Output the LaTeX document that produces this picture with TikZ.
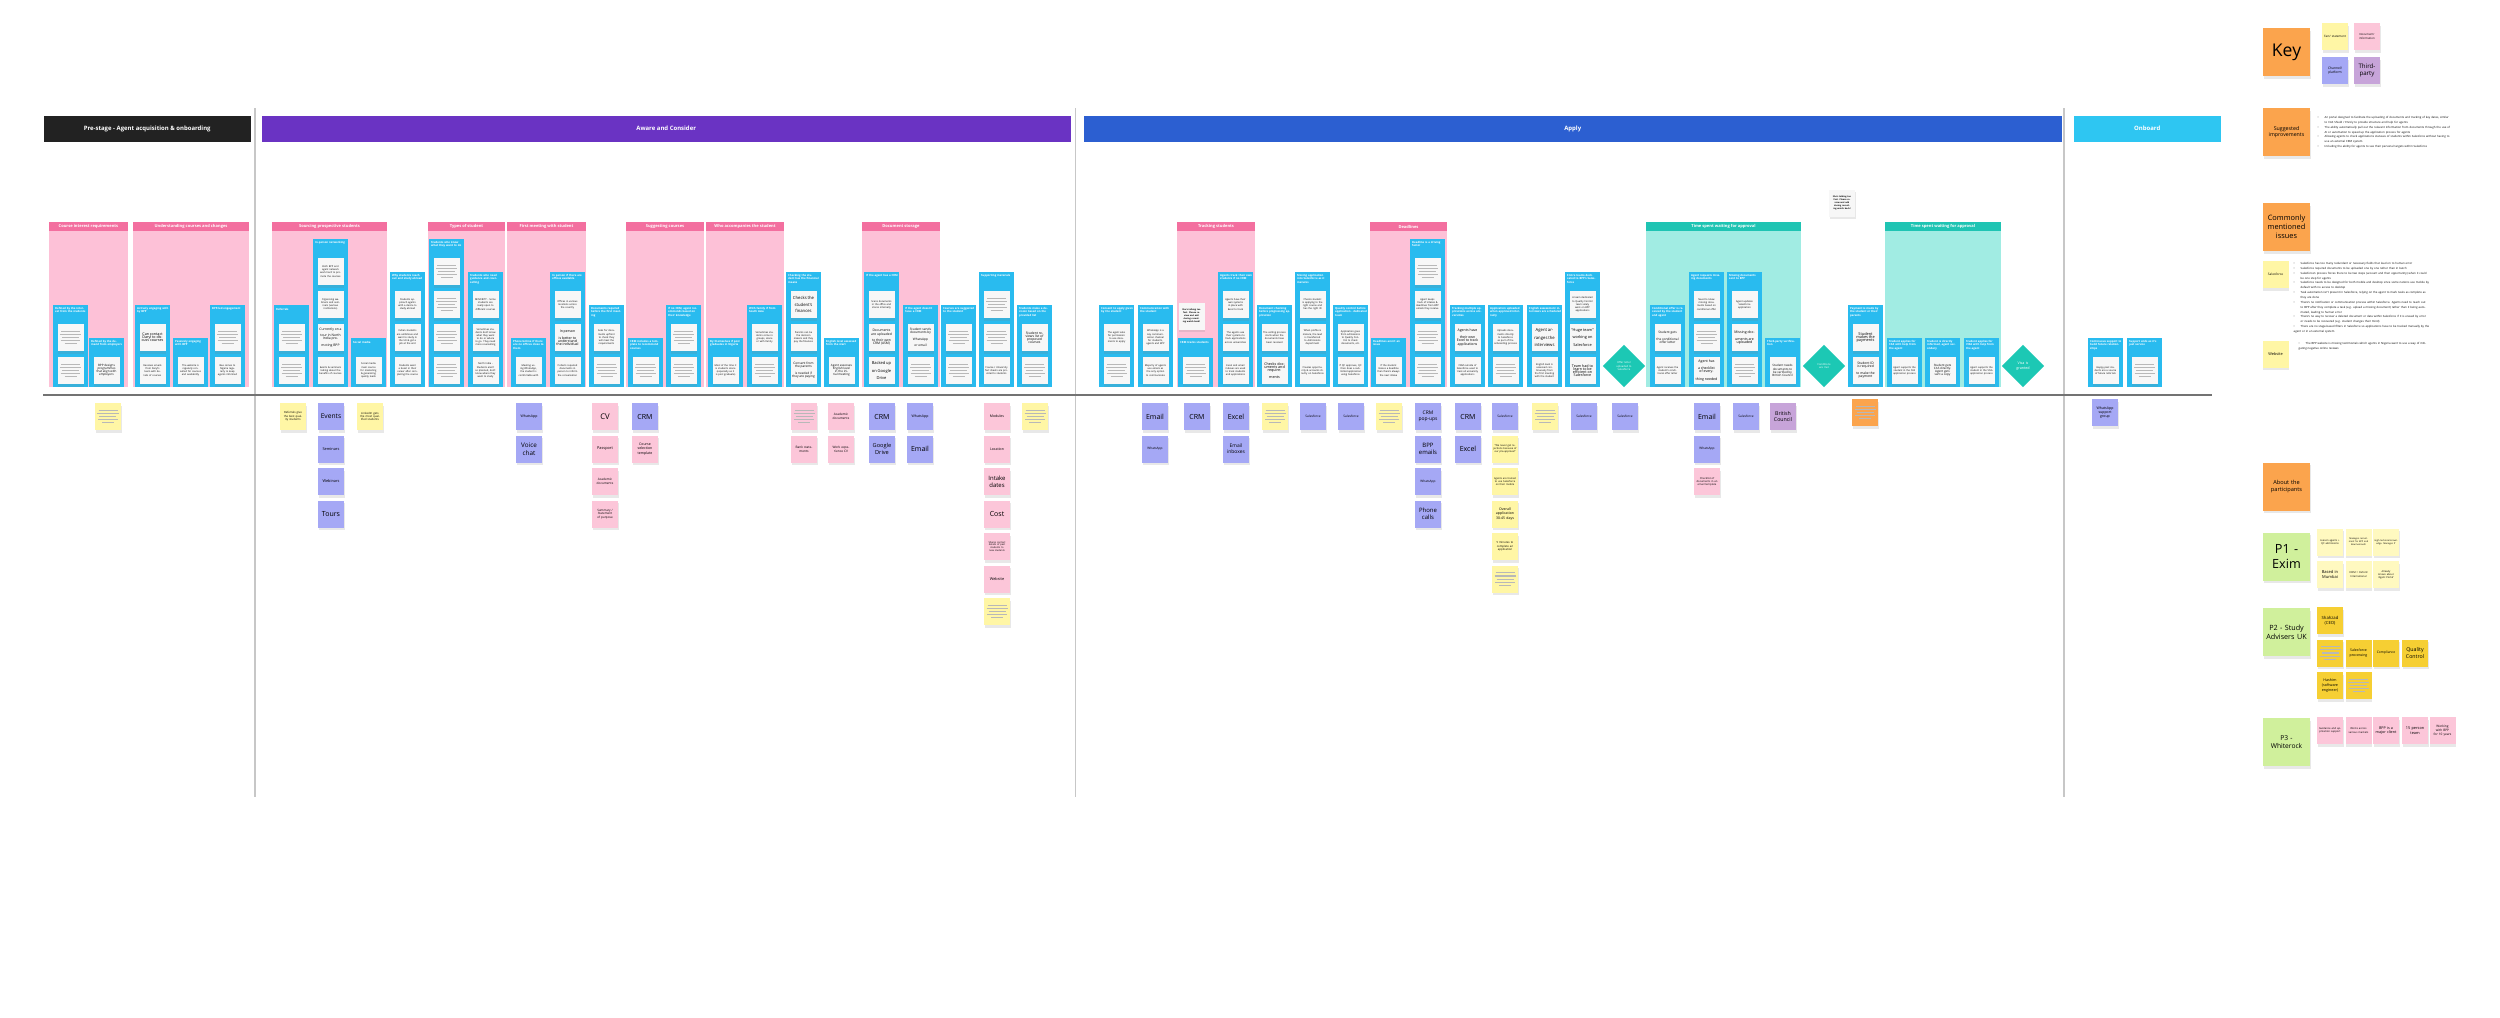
\documentclass[tikz,border=0pt]{standalone}
\usepackage{fontspec}
\setmainfont{Open Sans}
\usetikzlibrary{shapes.geometric,shadows}

\definecolor{cPre}{HTML}{222222}
\definecolor{cAware}{HTML}{6A33C3}
\definecolor{cApply}{HTML}{2C5FD1}
\definecolor{cOnboard}{HTML}{2EC6F2}
\definecolor{stripPink}{HTML}{F36F9F}
\definecolor{bodyPink}{HTML}{FDC1D7}
\definecolor{stripTeal}{HTML}{1FC4B3}
\definecolor{bodyTeal}{HTML}{A1ECE3}
\definecolor{colBlue}{HTML}{29BBEF}
\definecolor{noteWhite}{HTML}{F7F7F7}
\definecolor{noteYellow}{HTML}{FFF6A5}
\definecolor{notePink}{HTML}{FCC6D9}
\definecolor{noteBlue}{HTML}{A5A8F5}
\definecolor{notePurple}{HTML}{C7A4D9}
\definecolor{noteOrange}{HTML}{FBA44D}
\definecolor{noteGreen}{HTML}{D0F09C}
\definecolor{noteGold}{HTML}{F6CF33}
\definecolor{decision}{HTML}{1CC8B4}

\newcommand{\fs}[2]{\fontsize{#1}{#2}\selectfont}
\newcommand{\fl}{\fs{0.7}{0.9}\color{black!28}\rule{1.9mm}{0.12mm}\\\rule{2.1mm}{0.12mm}\\\rule{1.7mm}{0.12mm}\\\rule{2mm}{0.12mm}\\\rule{1.2mm}{0.12mm}}
\newcommand{\bul}[1]{\par\hangindent=0.7mm\hangafter=1\noindent\makebox[0.7mm][l]{\textbullet}#1}

\tikzset{
  phase/.style={anchor=north west, minimum height=2.6mm, inner sep=0pt, text=white, font=\bfseries\fs{1.7}{2}},
  striptitle/.style={inner sep=0pt, text=white, font=\bfseries\fs{1.15}{1.4}},
  coltitle/.style={anchor=north west, inner sep=0pt, text width=3.2mm, align=left, text=white, font=\bfseries\fs{0.78}{0.98}},
  note/.style={minimum width=2.6mm, minimum height=2.7mm, text width=2.3mm, inner sep=0.15mm, align=center, font=\fs{0.7}{0.88}, drop shadow={opacity=0.18, shadow xshift=0.08mm, shadow yshift=-0.25mm}},
  bignote/.style={note, minimum width=4.7mm, minimum height=4.8mm, text width=4.3mm},
  decide/.style={diamond, aspect=1, fill=decision, minimum width=4.3mm, minimum height=4.3mm, inner sep=0pt, text width=1.9mm, align=center, text=white, font=\fs{0.75}{0.95}},
  bullets/.style={anchor=north west, inner sep=0pt, align=left, font=\fs{0.8}{1.38}}
}

\newcommand{\stagepanel}[5]{%
  \fill[#4] (#1,231) rectangle (#2,387);
  \fill[#3] (#1,222) rectangle (#2,231);
  \node[striptitle] (p#1) at ({(#1+#2)/2},226.5) {#5};
}

\newcommand{\stagecol}[4]{%
  \pgfmathsetmacro\coltop{371-33*#2}
  \fill[colBlue] (#1,\coltop) rectangle (#1+35,387);
  \node[coltitle] (t#1) at (#1+1.5,\coltop+1.5) {#3};
  \foreach \txt [count=\i] in {#4} {
    \node[note, fill=noteWhite] (n#1-\i) at (#1+17.5,370.5-33*#2+33*\i) {\txt};
  }
}

\begin{document}
\begin{tikzpicture}[x=0.1mm, y=-0.1mm]
\useasboundingbox (0,0) rectangle (2500,1017);
\fill[white] (0,0) rectangle (2500,1017);

\node[phase, fill=cPre, minimum width=20.7mm] (prestage) at (43,115) {Pre-stage - Agent acquisition \& onboarding};
\node[phase, fill=cAware, minimum width=80.9mm] (aware) at (261,115) {Aware and Consider};
\node[phase, fill=cApply, minimum width=97.8mm] (apply) at (1083,115) {Apply};
\node[phase, fill=cOnboard, minimum width=14.7mm] (onboard) at (2073,115) {Onboard};

\draw[black!22, line width=0.12mm] (255,108) -- (255,797);
\draw[black!22, line width=0.12mm] (1075.5,108) -- (1075.5,797);
\draw[black!22, line width=0.12mm] (2064,108) -- (2064,797);
\draw[black!55, line width=0.2mm] (43,395) -- (2212,395);

\stagepanel{49}{128}{stripPink}{bodyPink}{Course interest requirements}
\stagepanel{133}{249}{stripPink}{bodyPink}{Understanding courses and changes}
\stagepanel{272}{387}{stripPink}{bodyPink}{Sourcing prospective students}
\stagepanel{428}{505}{stripPink}{bodyPink}{Types of student}
\stagepanel{507}{586}{stripPink}{bodyPink}{First meeting with student}
\stagepanel{626}{704}{stripPink}{bodyPink}{Suggesting courses}
\stagepanel{706}{784}{stripPink}{bodyPink}{Who accompanies the student}
\stagepanel{862}{940}{stripPink}{bodyPink}{Document storage}
\stagepanel{1177}{1255}{stripPink}{bodyPink}{Tracking students}
\stagepanel{1370}{1447}{stripPink}{bodyPink}{Deadlines}
\stagepanel{1646}{1801}{stripTeal}{bodyTeal}{Time spent waiting for approval}
\stagepanel{1885}{2001}{stripTeal}{bodyTeal}{Time spent waiting for approval}

\stagecol{53}{2}{Defined by the interest from the students}{{\fl},{\fl}}
\stagecol{89}{1}{Defined by the demand from employers}{{\fs{0.85}{1.05}BPP designs programmes that align with employers}}
\stagecol{135}{2}{Actively engaging with by BPP}{{\fs{1.05}{1.3}Can contact Daryl to discuss courses},{Receives emails from Daryl's team with details of courses}}
\stagecol{173}{1}{Passively engaging with BPP}{{The website is regularly consulted for courses and availability}}
\stagecol{210}{2}{BPP-led engagement}{{\fl},{Bee comes to Nigeria regularly to keep agents informed}}

\stagecol{274}{2}{Referrals}{{\fl},{\fl}}
\stagecol{313}{4}{In-person networking}{{Both BPP and agent network work hard to promote the courses},{Organising webinars and seminars (various institutions)},{\fs{0.95}{1.2}Currently on a tour in North India promoting BPP},{Events \& seminars talking about the benefits of courses}}
\stagecol{351}{1}{Social media}{{Social media main source for marketing \& generating quality leads}}
\stagecol{390}{3}{Why students reach out and study abroad}{{Students approach agents with a desire to study abroad},{Indian students are ambitious and want to study in the UK \& get a job at the end},{Students want a boost in their career after completing the course}}
\stagecol{429}{4}{Students who know what they want to do}{{\fl},{\fl},{\fl},{\fl}}
\stagecol{468}{3}{Students who need guidance and counselling}{{MINORITY - Some students are really open to different courses},{Sometimes students don't know what they want to do or where to go. They need more counselling},{North India - Students aren't so planned, don't know where they want to study}}
\stagecol{511}{1}{Phone/online if there are no offices close to them}{{Meeting using WhatsApp, the student is comfortable with}}
\stagecol{550}{3}{In person if there are offices available}{{Offices in various locations across the country},{\fs{1}{1.25}In person is better to understand the individual},{Collects required documents in person to inform the conversation}}
\stagecol{589}{2}{Documents required before the first meeting}{{Asks for documents upfront to check they will meet the requirements},{\fl}}
\stagecol{628}{1}{CRM includes a template to recommend courses}{{\fl}}
\stagecol{666}{2}{If no CRM, agent recommends based on their knowledge}{{\fl},{\fl}}
\stagecol{708}{1}{By themselves if post graduates in Nigeria}{{Most of the time it is students alone (especially as it is post graduate)}}
\stagecol{747}{2}{With family if from South Asia}{{Sometimes students come in groups, alone or with family},{\fl}}
\stagecol{786}{3}{Checking the student has the financial means}{{\fs{1.2}{1.45}Checks the student's finances},{Parents can be the decision makers and they pay the finances},{\fs{0.9}{1.1}Consent from the parents is needed if they are paying}}
\stagecol{824}{1}{English level assessed from the start}{{\fs{0.85}{1.05}Agent assesses English level in the initial meeting}}
\stagecol{864}{3}{If the agent has a CRM}{{Scans documents in the office and stores internally},{\fs{0.95}{1.2}Documents are uploaded to their own CRM (ASM)},{\fs{1.15}{1.4}Backed up on Google Drive}}
\stagecol{903}{2}{If the agent doesn't have a CRM}{{\fs{0.9}{1.1}Student sends documents by WhatsApp or email},{\fl}}
\stagecol{941}{2}{Courses are suggested to the student}{{\fl},{\fl}}
\stagecol{979}{3}{Supporting materials}{{\fl},{\fl},{Course / University fact sheets are provided to students}}
\stagecol{1017}{2}{Students make a decision based on the provided list}{{\fs{0.95}{1.2}Student reviews list of proposed courses},{\fl}}

\stagecol{1099}{2}{Consent to apply given by the student}{{The agent asks for permission to use documents to apply},{\fl}}
\stagecol{1138}{2}{Communication with the student}{{WhatsApp is a key communication channel for students, agents and BPP},{Majority of agents use emails as the only option to communicate}}
\stagecol{1178}{1}{CRM tracks students}{{\fl}}
\stagecol{1218}{3}{Agents track their own students if no CRM}{{Agents have their own systems in place with Excel to track},{The agents use their systems to track applications across universities},{Excel and email inboxes are used to track students and applications}}
\stagecol{1257}{2}{Document checking before progressing application}{{The vetting process starts when the documents have been received},{\fs{1.05}{1.3}Checks documents and requirements}}
\stagecol{1295}{3}{Moving application into Salesforce as it matures}{{Checks student is applying to the right course and has the right ID},{When profile is mature, the lead is transferred to Admissions department},{Creates opportunity \& accounts directly on Salesforce}}
\stagecol{1333}{2}{Quality control before application - dedicated team}{{Application goes from admissions to Quality Control to check documents, etc.},{If QC approves, QC then does a submitted application using Salesforce}}
\stagecol{1371}{1}{Deadlines aren't an issue}{{If the student misses a deadline then there's always the next intake}}
\stagecol{1410}{4}{Deadline is a driving factor}{{\fl},{Agent keeps track of intakes \& deadlines from BPP emails they receive},{\fl},{\fl}}
\stagecol{1450}{2}{Tracking multiple applications across universities}{{\fs{1}{1.25}Agents have their own Excel to track applications},{CRM outside of Salesforce used to track all university applications}}
\stagecol{1488}{2}{Application uploaded when approved internally}{{Uploads documents directly to Salesforce as part of the onboarding process},{\fl}}
\stagecol{1527}{2}{English assessment interviews are scheduled}{{\fs{1.2}{1.45}Agent arranges the interviews},{English level is assessed continuously from the first meeting with the student}}
\stagecol{1565}{3}{Entire teams dedicated to BPP's Salesforce}{{A team dedicated to Quality Control team solely work on BPP applications},{\fs{1.1}{1.35}``Huge team'' working on Salesforce},{\fs{1.05}{1.3}Team had to learn to be efficient on Salesforce}}
\stagecol{1650}{2}{Conditional offer is received by the student and agent}{{\fs{0.9}{1.1}Student gets the conditional offer letter},{Agent receives the student's conditional offer letter}}
\stagecol{1689}{3}{Agent requests missing documents}{{Need to know missing documents based on conditional offer},{\fl},{\fs{1}{1.25}Agent has a checklist of everything needed}}
\stagecol{1727}{3}{Missing documents sent to BPP}{{Agent updates Salesforce application},{\fs{1}{1.25}Missing documents are uploaded},{\fl}}
\stagecol{1765}{1}{Third-party verification}{{\fs{0.85}{1.05}Student needs documents to be verified by British Council}}
\stagecol{1848}{2}{Payment is made by the student or their parents}{{\fs{1.1}{1.35}Student makes the payments},{\fs{0.95}{1.2}Student ID is required to make the payment}}
\stagecol{1887}{1}{Student applies for CAS with help from the agent}{{Agent supports the student in the CAS application process}}
\stagecol{1925}{1}{Student is directly informed, agent secondary}{{\fs{0.85}{1.05}Student gets CAS directly. Agent gets sent a copy}}
\stagecol{1964}{1}{Student applies for VISA with help from the agent}{{Agent supports the student in the VISA application process}}

\stagecol{2088}{1}{Continuous support to build future relationships}{{Happy past students are a source of future referrals}}
\stagecol{2127}{1}{Support ends as it's just service}{{\fl}}

\node[decide] (offer) at (1624,366) {Offer letter uploaded to Salesforce};
\node[decide] (conditions) at (1824,366) {Conditions are met};
\node[decide, font=\fs{1.05}{1.3}] (visa) at (2023,366) {Visa is granted};

\node[note, fill=noteWhite, font=\bfseries\fs{0.62}{0.8}] (memo1) at (1191.5,316) {She's talking too fast. Please review and add during recording watch back!};
\node[note, fill=noteWhite, font=\bfseries\fs{0.62}{0.8}] (memo2) at (1842,203) {She's talking too fast. Please review and add during recording watch back!};

\foreach \nX/\nR/\nC/\nS/\nT in {
  95/0/noteYellow/0.7/\fl,
  280/0/noteYellow/0.8/Referrals give the best quality students,
  318/0/noteBlue/1.9/Events,
  318/1/noteBlue/1.1/Seminars,
  318/2/noteBlue/1.1/Webinars,
  318/3/noteBlue/2.0/Tours,
  357/0/noteYellow/0.8/LinkedIn gets the most qualified students,
  516/0/noteBlue/1.0/WhatsApp,
  516/1/noteBlue/1.8/Voice chat,
  592/0/notePink/2.2/CV,
  592/1/notePink/1.1/Passport,
  592/2/notePink/0.9/Academic documents,
  592/3/notePink/0.85/{Summary / Statement of purpose},
  632/0/noteBlue/2.0/CRM,
  632/1/notePink/1.0/Course selection template,
  791/0/notePink/0.7/\fl,
  791/1/notePink/0.9/Bank statements,
  828/0/notePink/0.9/Academic documents,
  828/1/notePink/0.9/Work experience CV,
  869/0/noteBlue/2.0/CRM,
  869/1/noteBlue/1.6/Google Drive,
  907/0/noteBlue/1.0/WhatsApp,
  907/1/noteBlue/2.0/Email,
  984/0/notePink/1.0/Modules,
  984/1/notePink/1.0/Location,
  984/2/notePink/1.7/Intake dates,
  984/3/notePink/2.0/Cost,
  984/4/notePink/0.7/Shares contact details of past students to new students,
  984/5/notePink/1.1/Website,
  984/6/noteYellow/0.7/\fl,
  1022/0/noteYellow/0.7/\fl,
  1142/0/noteBlue/2.0/Email,
  1142/1/noteBlue/0.9/WhatsApp,
  1184/0/noteBlue/2.0/CRM,
  1223/0/noteBlue/2.0/Excel,
  1223/1/noteBlue/1.4/Email inboxes,
  1262/0/noteYellow/0.7/\fl,
  1300/0/noteBlue/0.9/Salesforce,
  1338/0/noteBlue/0.9/Salesforce,
  1376/0/noteYellow/0.7/\fl,
  1415/0/noteBlue/1.4/CRM pop-ups,
  1415/1/noteBlue/1.7/BPP emails,
  1415/2/noteBlue/0.9/WhatsApp,
  1415/3/noteBlue/1.7/Phone calls,
  1455/0/noteBlue/2.0/CRM,
  1455/1/noteBlue/2.0/Excel,
  1492/0/noteBlue/0.9/Salesforce,
  1492/1/noteYellow/0.72/``We never get rejections because of our pre-approval'',
  1492/2/noteYellow/0.72/Agents are trained to use Salesforce on their mobile,
  1492/3/noteYellow/1.0/Overall application 30-45 days,
  1492/4/noteYellow/0.8/5 minutes to complete an application,
  1492/5/noteYellow/0.7/\fl,
  1532/0/noteYellow/0.7/\fl,
  1571/0/noteBlue/0.9/Salesforce,
  1612/0/noteBlue/0.9/Salesforce,
  1694/0/noteBlue/2.0/Email,
  1694/1/noteBlue/0.9/WhatsApp,
  1694/2/notePink/0.75/Checklist of documents in an email template,
  1733/0/noteBlue/0.9/Salesforce,
  1770/0/notePurple/1.5/British Council
}{
  \pgfmathsetmacro\nL{1.2*\nS}
  \node[note, fill=\nC, font=\fs{\nS}{\nL}] (b\nX-\nR) at (\nX+13,416.5+32.5*\nR) {\nT};
}
\node[note, fill=noteOrange] (delay) at (1865,412.5) {\fl};
\node[note, fill=noteBlue, font=\fs{1}{1.2}] (support) at (2105,412.5) {WhatsApp support group};

\node[bignote, fill=noteOrange, font=\fs{5}{6}] (key) at (2286.5,52) {Key};
\node[note, fill=noteYellow, font=\fs{0.85}{1.05}] (kfact) at (2335,36.5) {Fact/ statement};
\node[note, fill=notePink, font=\fs{0.8}{1}] (kdoc) at (2367,36.5) {Document/ information};
\node[note, fill=noteBlue, font=\fs{0.95}{1.2}] (kchannel) at (2335,70.5) {Channel/ platform};
\node[note, fill=notePurple, font=\fs{1.75}{2.1}] (kthird) at (2367,70.5) {Third-\\party};

\node[bignote, fill=noteOrange, font=\fs{1.5}{1.8}] (improve) at (2286.5,132) {Suggested improvements};
\node[bullets, text width=13.4mm] (improvelist) at (2317,113) {%
  \bul{An portal designed to facilitate the uploading of documents and tracking of key dates, similar to CAS Shield / Enroly to provide structure and help for agents}
  \bul{The ability automatically pull out the relevant information from documents through the use of AI or automation to speed up the application process for agents}
  \bul{Allowing agents to check applications statuses of students within Salesforce without having to use an external CRM system}
  \bul{Including the ability for agents to see their personal targets within Salesforce}};

\node[bignote, fill=noteOrange, font=\fs{2.1}{2.6}] (issues) at (2286.5,227) {Commonly mentioned issues};
\node[note, fill=noteYellow, font=\fs{0.9}{1.1}] (sfnote) at (2275.5,274.5) {Salesforce};
\node[bullets, text width=13.6mm] (sflist) at (2293,259) {%
  \bul{Salesforce has too many redundant or necessary fields that lead on to human error}
  \bul{Salesforce required documents to be uploaded one by one rather than in batch}
  \bul{Salesforce's process forces there to be two steps (account and then opportunity) when it could be one step for agents}
  \bul{Salesforce needs to be designed for both mobile and desktop since some nations use mobile by default with no access to desktop}
  \bul{Task automation isn't present in Salesforce, relying on the agent to mark tasks as complete as they are done}
  \bul{There's no notification or communication process within Salesforce. Agents need to reach out to BPP after they complete a task (e.g. upload a missing document) rather than it being automated, leading to human error}
  \bul{There's no way to recover a deleted document or data within Salesforce if it is erased by error or needs to be recovered (e.g. student changes their mind)}
  \bul{There are no stage-based filters in Salesforce so applications have to be tracked manually by the agent or in an external system}};
\node[note, fill=noteYellow, font=\fs{1.1}{1.3}] (webnote) at (2275.5,354) {Website};
\node[bullets, text width=13mm] (weblist) at (2298,339) {%
  \bul{The BPP website is missing testimonials which agents in Nigeria want to use a way of mitigating negative online reviews}};

\node[bignote, fill=noteOrange, font=\fs{1.6}{1.95}] (about) at (2286.5,486.5) {About the participants};

\node[bignote, fill=noteGreen, font=\fs{3.6}{4.3}] (exim) at (2286.5,556.5) {P1 -\\Exim};
\node[note, fill=noteYellow!70, font=\fs{0.72}{0.9}] (exim1) at (2330,542) {Liaison agents + QC admissions};
\node[note, fill=noteYellow!70, font=\fs{0.65}{0.82}] (exim2) at (2358.5,542) {Manages recruitment for BPP and Bournemouth};
\node[note, fill=noteYellow!70, font=\fs{0.65}{0.82}] (exim3) at (2386,542) {High technical knowledge. Manages IT};
\node[note, fill=noteYellow!70, font=\fs{1.15}{1.4}] (exim4) at (2330,574.5) {Based in Mumbai};
\node[note, fill=noteYellow!70, font=\fs{0.75}{0.92}] (exim5) at (2358.5,574.5) {EXIM = Oxford International};
\node[note, fill=noteYellow!70, font=\fs{0.72}{0.9}] (exim6) at (2386,574.5) {Already knows about `Agent Portal'};

\node[bignote, fill=noteGreen, font=\fs{2.05}{2.5}] (sauk) at (2286.5,632) {P2 - Study Advisers UK};
\node[note, fill=noteGold, font=\fs{1.2}{1.45}] (sauk1) at (2330,620.5) {Shahzad (CEO)};
\node[note, fill=noteGold] (sauk2) at (2330,653) {\fl};
\node[note, fill=noteGold, font=\fs{1}{1.25}] (sauk3) at (2358.5,653) {Salesforce processing};
\node[note, fill=noteGold, font=\fs{0.95}{1.2}] (sauk4) at (2386,653) {Compliance};
\node[note, fill=noteGold, font=\fs{1.5}{1.8}] (sauk5) at (2415,653) {Quality Control};
\node[note, fill=noteGold, font=\fs{1.05}{1.3}] (sauk6) at (2330,685.5) {Hashim (software engineer)};
\node[note, fill=noteGold] (sauk7) at (2358.5,685.5) {\fl};

\node[bignote, fill=noteGreen, font=\fs{1.9}{2.35}] (whiterock) at (2286.5,742) {P3 -\\Whiterock};
\node[note, fill=notePink, font=\fs{0.75}{0.92}] (white1) at (2330,730.5) {Guidance and application support};
\node[note, fill=notePink, font=\fs{0.75}{0.92}] (white2) at (2358.5,730.5) {Works across various markets};
\node[note, fill=notePink, font=\fs{1.05}{1.3}] (white3) at (2386,730.5) {BPP is a major client};
\node[note, fill=notePink, font=\fs{1.1}{1.35}] (white4) at (2415,730.5) {15 person team};
\node[note, fill=notePink, font=\fs{0.9}{1.1}] (white5) at (2442.5,730.5) {Working with BPP for 10 years};

\end{tikzpicture}
\end{document}
